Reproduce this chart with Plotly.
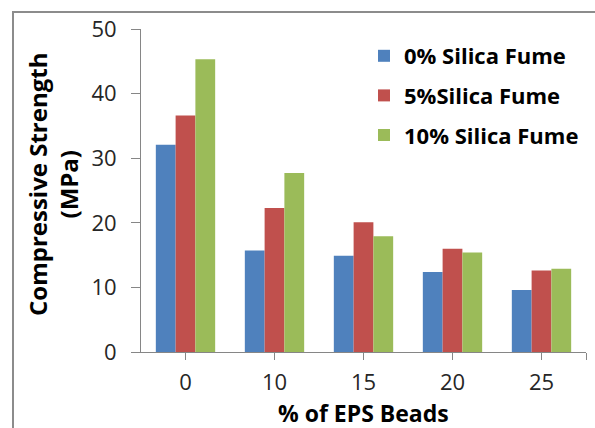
import plotly.graph_objects as go

# EPS bead content (% replacement) on the category axis
eps_beads = ["0", "10", "15", "20", "25"]

# Compressive strength (MPa) for each silica fume dosage
sf_0 = [32.1, 15.7, 14.9, 12.4, 9.6]
sf_5 = [36.6, 22.3, 20.1, 16.0, 12.6]
sf_10 = [45.3, 27.7, 17.9, 15.4, 12.9]

series_names = ["0% Silica Fume", "5%Silica Fume", "10% Silica Fume"]
series_values = [sf_0, sf_5, sf_10]
series_colors = ["#4F81BD", "#C0504D", "#9BBB59"]

W, H = 595, 428
L, R, T, B = 141, 9, 29, 76
plot_w = W - L - R
plot_h = H - T - B

FONT = "Open Sans"
AXIS_GREY = "#868686"

x_pos = list(range(len(eps_beads)))

fig = go.Figure()
for i, (name, vals, col) in enumerate(zip(series_names, series_values, series_colors)):
    fig.add_trace(go.Bar(
        x=x_pos, y=vals, name=name,
        marker=dict(color=col, line=dict(width=0)),
        legendgroup=f"g{i}",
    ))

fig.update_layout(
    width=W, height=H,
    margin=dict(l=L, r=R, t=T, b=B),
    paper_bgcolor="white", plot_bgcolor="white",
    barmode="group", bargap=1.5 / 4.5, bargroupgap=0,
    font=dict(family=FONT, color="#000000"),
    showlegend=True,
    legend=dict(
        x=(364 - L) / plot_w, y=1 - (35 - T) / plot_h,
        xanchor="left", yanchor="top",
        font=dict(family=FONT, size=22, color="#000000", weight="bold"),
        bgcolor="rgba(0,0,0,0)",
        traceorder="grouped", tracegroupgap=8,
        itemwidth=30,
    ),
)

fig.update_xaxes(
    range=[-0.5, len(eps_beads) - 0.5],
    tickvals=x_pos + [len(eps_beads) - 0.5],
    ticktext=eps_beads + [""],
    ticks="outside", ticklen=7, tickcolor=AXIS_GREY, tickwidth=1,
    showline=True, linecolor=AXIS_GREY, linewidth=1,
    showgrid=False, zeroline=False,
    tickfont=dict(family=FONT, size=22, color="#262626"),
    ticklabelstandoff=4,
)

fig.update_yaxes(
    range=[0, 50], dtick=10, tick0=0,
    ticks="outside", ticklen=9, tickcolor=AXIS_GREY, tickwidth=1,
    showline=True, linecolor=AXIS_GREY, linewidth=1,
    showgrid=False, zeroline=False,
    tickfont=dict(family=FONT, size=22, color="#262626"),
    ticklabelstandoff=10,
)

# Axis titles
fig.add_annotation(
    text="Compressive Strength<br>(MPa)",
    xref="paper", yref="paper",
    x=(53 - L) / plot_w, y=1 - (185 - T) / plot_h,
    xanchor="center", yanchor="middle",
    textangle=-90, showarrow=False,
    font=dict(family=FONT, size=24, color="#000000", weight="bold"),
)
fig.add_annotation(
    text="% of EPS Beads",
    xref="paper", yref="paper",
    x=0.5, y=1 - (412.5 - T) / plot_h,
    xanchor="center", yanchor="middle",
    showarrow=False,
    font=dict(family=FONT, size=23, color="#000000", weight="bold"),
)

# Chart-area border
fig.add_shape(
    type="rect", xref="paper", yref="paper",
    x0=(13 - L) / plot_w, x1=(W + 20 - L) / plot_w,
    y0=1 - (H + 20 - T) / plot_h, y1=1 - (12 - T) / plot_h,
    line=dict(color="#8C8C8C", width=2), fillcolor="rgba(0,0,0,0)",
    layer="below",
)

fig.write_html("out.html")
